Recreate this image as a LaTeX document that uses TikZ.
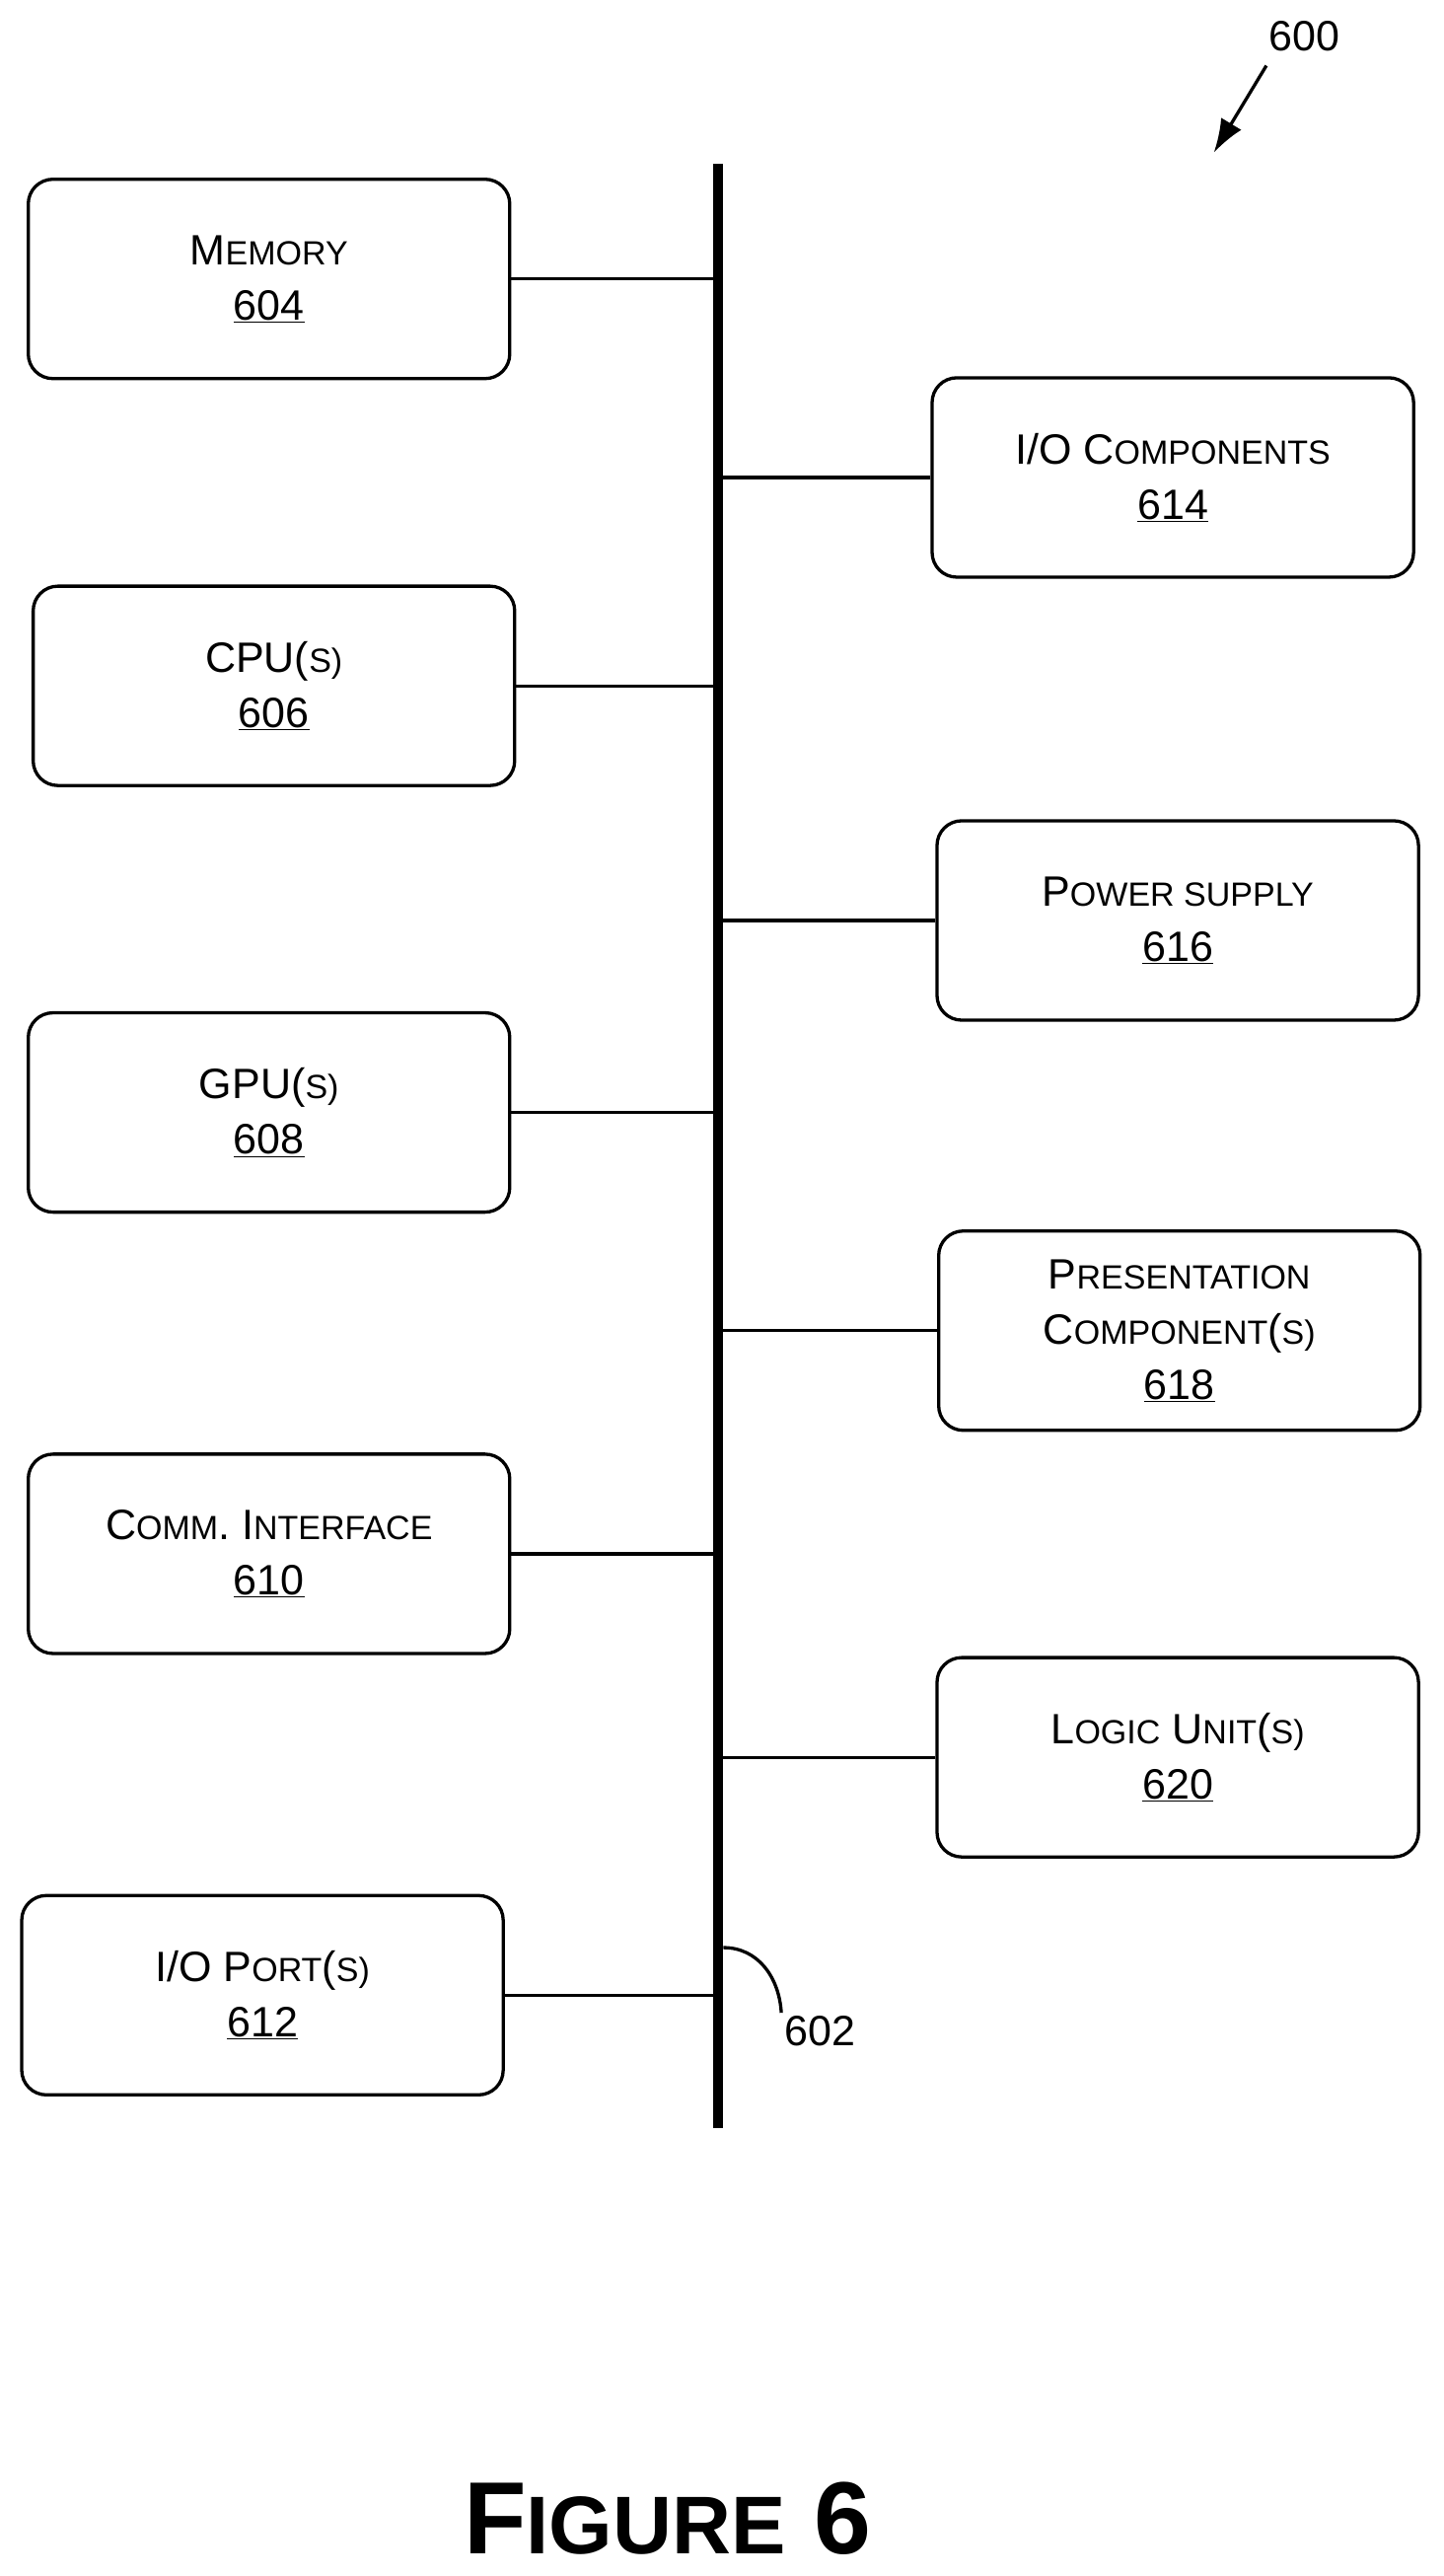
\documentclass[tikz,border=0pt]{standalone}
\usepackage{fontspec}
\usetikzlibrary{arrows.meta}
\setmainfont{Liberation Sans}
\newcommand{\bigf}{\fontsize{43}{56}\selectfont}
\newcommand{\smf}{\fontsize{34}{56}\selectfont}
\newcommand{\scw}[2]{{\bigf #1}{\smf #2}}
\begin{document}
\begin{tikzpicture}[x=1.6625pt,y=-1.6625pt,
 box/.style={draw,line width=3.3pt,rounded corners=25pt,minimum width=488pt,minimum height=202pt,align=center,font=\bigf},
 conn/.style={line width=3.3pt}]
\useasboundingbox (0,0) rectangle (880,1570);
\coordinate (bt) at (438,100);
\coordinate (bb) at (438,1297);
\draw[line width=10pt] (bt) -- (bb);
\node[box] (mem) at (164,170) {\scw{M}{EMORY}\\\underline{604}};
\node[box] (io) at (715,291) {\scw{I/O C}{OMPONENTS}\\\underline{614}};
\node[box] (cpu) at (167,418) {CPU(\smf S)\\\underline{606}};
\node[box] (pow) at (718,561) {\scw{P}{OWER SUPPLY}\\\underline{616}};
\node[box] (gpu) at (164,678) {GPU(\smf S)\\\underline{608}};
\node[box] (pre) at (719,811) {\scw{P}{RESENTATION}\\\scw{C}{OMPONENT}(\smf S)\\\underline{618}};
\node[box] (com) at (164,947) {\scw{C}{OMM}. \scw{I}{NTERFACE}\\\underline{610}};
\node[box] (log) at (718,1071) {\scw{L}{OGIC} \scw{U}{NIT}(\smf S)\\\underline{620}};
\node[box] (prt) at (160,1216) {\scw{I/O P}{ORT}(\smf S)\\\underline{612}};
\foreach \n in {mem,cpu,gpu,com,prt} \draw[conn] (\n.east) -- (\n.east -| bt);
\foreach \n in {io,pow,pre,log} \draw[conn] (\n.west) -- (\n.west -| bt);
\node[font=\bigf] (l600) at (795,22) {600};
\coordinate (a600) at (740,93);
\draw[line width=3.3pt,-{Latex[length=34pt,width=24pt]}] (772,40) -- (a600);
\node[font=\bigf] (l602) at (500,1238) {602};
\coordinate (c602) at (441,1187);
\draw[conn] (c602) .. controls (462,1187) and (475,1205) .. (l602.north west);
\node[font=\bfseries\fontsize{104}{110}\selectfont] (fig) at (407,1535) {F{\fontsize{83}{110}\selectfont IGURE} 6};
\end{tikzpicture}
\end{document}
